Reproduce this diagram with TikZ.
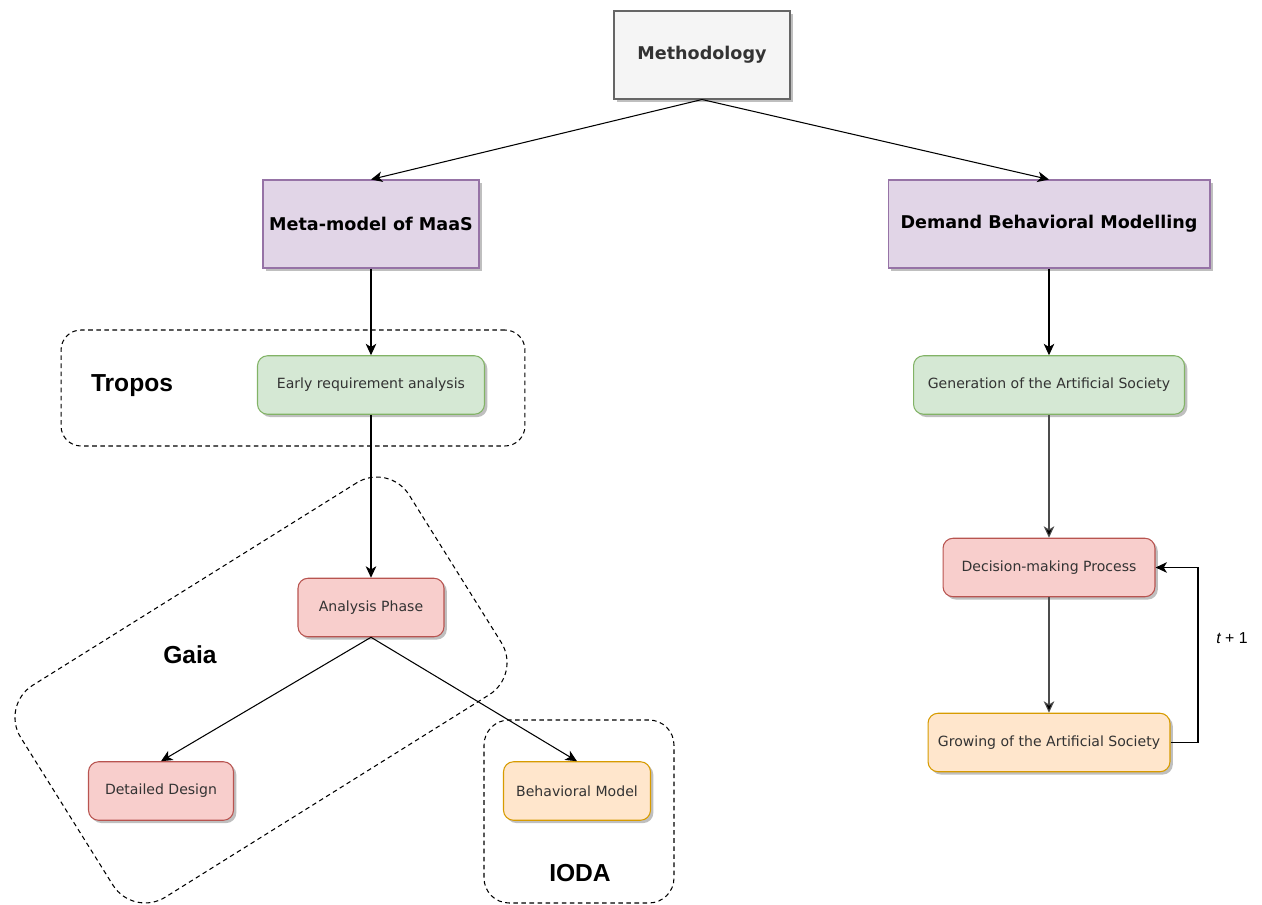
\documentclass[tikz,border=0pt]{standalone}
\usepackage{fontspec}
\setmainfont{DejaVu Sans}
\newfontfamily\helv{Liberation Sans}
\usetikzlibrary{arrows.meta,shadows}

\definecolor{grayfill}{HTML}{F5F5F5}
\definecolor{graydraw}{HTML}{666666}
\definecolor{purplefill}{HTML}{E1D5E7}
\definecolor{purpledraw}{HTML}{9673A6}
\definecolor{greenfill}{HTML}{D5E8D4}
\definecolor{greendraw}{HTML}{82B366}
\definecolor{redfill}{HTML}{F8CECC}
\definecolor{reddraw}{HTML}{B85450}
\definecolor{orangefill}{HTML}{FFE6CC}
\definecolor{orangedraw}{HTML}{D79B00}
\definecolor{textdark}{HTML}{333333}

\begin{document}
\begin{tikzpicture}[x=0.02cm,y=-0.02cm,
  base/.style={draw, line width=0.6pt, inner sep=0pt, align=center,
    drop shadow={shadow xshift=1.6pt, shadow yshift=-1.6pt, fill=black, opacity=0.25}},
  header/.style={base, font=\bfseries\fontsize{10}{12}\selectfont, minimum height=1.76cm},
  stepbox/.style={base, rounded corners=0.2cm, font=\fontsize{8}{10}\selectfont,
    text=textdark, minimum height=1.17cm},
  greybox/.style={header, fill=grayfill, draw=graydraw, text=textdark},
  purplebox/.style={header, fill=purplefill, draw=purpledraw},
  greenbox/.style={stepbox, fill=greenfill, draw=greendraw},
  redbox/.style={stepbox, fill=redfill, draw=reddraw},
  orangebox/.style={stepbox, fill=orangefill, draw=orangedraw},
  group/.style={draw, line width=0.6pt, dash pattern=on 2.6pt off 2pt, inner sep=0pt},
  grouplabel/.style={font=\helv\bfseries\fontsize{14}{16}\selectfont},
  arr/.style={-{Stealth[length=6.5pt,width=6pt,inset=1.8pt]}, line width=0.6pt},
  arrgrey/.style={arr, draw=black!70, -{Stealth[length=6.5pt,width=6pt,inset=1.8pt,fill=black]}}
]
\useasboundingbox (0,0) rectangle (1262,905);

% dashed groupings
\node[group, rounded corners=0.4cm, minimum width=9.28cm, minimum height=2.32cm] (tropos) at (293,388) {};
\node[group, rounded corners=0.76cm, minimum width=9.16cm, minimum height=5.0cm, rotate=32] (gaia) at (261,690) {};
\node[group, rounded corners=0.5cm, minimum width=3.8cm, minimum height=3.66cm] (ioda) at (579,811.5) {};

\node[grouplabel] (troposlbl) at (132,386) {Tropos};
\node[grouplabel] (gaialbl) at (190,655) {Gaia};
\node[grouplabel] (iodalbl) at (580,873) {IODA};

% top level
\node[greybox, minimum width=3.52cm] (meth) at (702,55) {Methodology};
\node[purplebox, minimum width=4.32cm] (meta) at (371,224) {Meta-model of MaaS};
\node[purplebox, minimum width=6.44cm] (demand) at (1049,224) {Demand Behavioral Modelling};

% left branch
\node[greenbox, minimum width=4.54cm] (early) at (371,385) {Early requirement analysis};
\node[redbox, minimum width=2.92cm] (analysis) at (371,607.5) {Analysis Phase};
\node[redbox, minimum width=2.9cm] (detailed) at (161,791) {Detailed Design};
\node[orangebox, minimum width=2.94cm] (behav) at (577,791) {Behavioral Model};

% right branch
\node[greenbox, minimum width=5.42cm] (gen) at (1049,385) {Generation of the Artificial Society};
\node[redbox, minimum width=4.24cm] (dec) at (1049,567.5) {Decision-making Process};
\node[orangebox, minimum width=4.84cm] (grow) at (1049,742.5) {Growing of the Artificial Society};

% connectors
\draw[arr] (meth.south) -- (meta.north);
\draw[arr] (meth.south) -- (demand.north);
\draw[arr] (meta.south) -- (early.north);
\draw[arr] (early.south) -- (analysis.north);
\draw[arr] (analysis.south) -- (detailed.north);
\draw[arr] (analysis.south) -- (behav.north);
\draw[arr] (demand.south) -- (gen.north);
\draw[arrgrey] (gen.south) -- (dec.north);
\draw[arrgrey] (dec.south) -- (grow.north);

% time-step feedback loop
\coordinate (loop) at (1198,742.5);
\draw[arr] (grow.east) -- (loop) |- (dec.east);
\node[font=\helv\fontsize{9}{11}\selectfont] (tlabel) at (1232,638) {{\itshape t} + 1};
\end{tikzpicture}
\end{document}
